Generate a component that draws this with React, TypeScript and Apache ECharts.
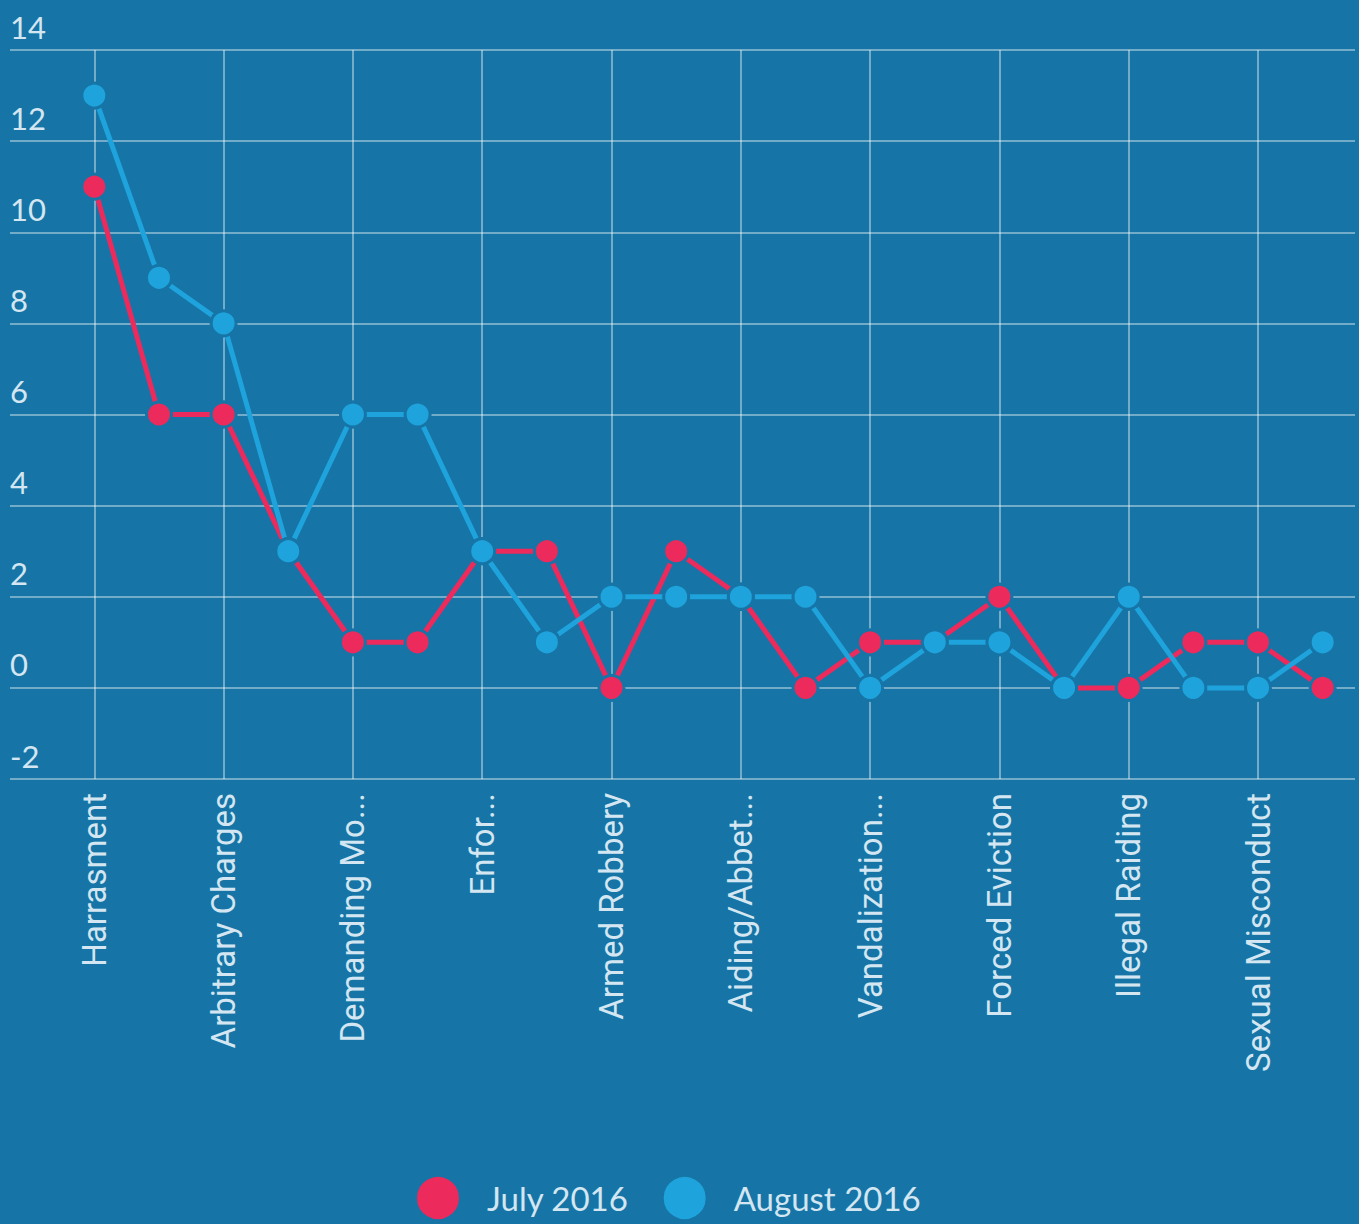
import React, { useEffect, useRef } from "react";
import * as echarts from "echarts";

const categories = [
  "Harrasment",
  "Extortion",
  "Arbitrary Charges",
  "Unlawful Detention",
  "Demanding Mo...",
  "Intimidation",
  "Enfor...",
  "Assault",
  "Armed Robbery",
  "Theft",
  "Aiding/Abbet...",
  "Torture",
  "Vandalization...",
  "Threats",
  "Forced Eviction",
  "Abduction",
  "Illegal Raiding",
  "Bribery",
  "Sexual Misconduct",
  "Other",
];

const july2016 = [11, 6, 6, 3, 1, 1, 3, 3, 0, 3, 2, 0, 1, 1, 2, 0, 0, 1, 1, 0];
const august2016 = [13, 9, 8, 3, 6, 6, 3, 1, 2, 2, 2, 2, 0, 1, 1, 0, 2, 0, 0, 1];

const yMin = -2;
const yMax = 14;
const yInterval = 2;

const BG = "#1675a6";
const RED = "#ec2a5c";
const BLUE = "#1fa3dc";
const GRID = "rgba(255,255,255,0.4)";
const TEXT = "#d3e6f1";

export default function App() {
  const ref = useRef<HTMLDivElement>(null);
  useEffect(() => {
    if (!ref.current) return;
    const chart = echarts.init(ref.current, undefined, { renderer: "svg" });
    chart.setOption({
      animation: false,
      backgroundColor: BG,
      grid: { left: 62, right: 4, top: 50, bottom: 445 },
      legend: {
        top: 1170,
        left: 410,
        padding: 5,
        itemWidth: 44,
        itemHeight: 44,
        itemGap: 33,
        icon: "circle",
        textStyle: { color: TEXT, fontSize: 33, fontFamily: "Lato", padding: [0, 0, 0, 22] },
        data: ["July 2016", "August 2016"],
      },
      xAxis: {
        type: "category",
        data: categories,
        boundaryGap: true,
        axisLine: { show: false },
        axisTick: { show: false },
        axisLabel: {
          interval: 1,
          rotate: 90,
          margin: 14,
          color: TEXT,
          fontSize: 33,
          fontFamily: "Roboto",
        },
        splitLine: {
          show: true,
          interval: 1,
          alignWithLabel: true,
          lineStyle: { color: GRID, width: 2 },
        },
      },
      yAxis: {
        type: "value",
        min: yMin,
        max: yMax,
        interval: yInterval,
        axisLine: { show: false },
        axisTick: {
          show: true,
          inside: false,
          length: 52,
          lineStyle: { color: GRID, width: 2 },
        },
        axisLabel: {
          margin: 52,
          align: "left",
          verticalAlign: "bottom",
          padding: [0, 0, 8, 0],
          color: TEXT,
          fontSize: 31,
          fontFamily: "Lato",
        },
        splitLine: { show: true, lineStyle: { color: GRID, width: 2 } },
      },
      series: [
        {
          name: "July 2016",
          type: "line",
          data: july2016,
          symbol: "circle",
          symbolSize: 25,
          lineStyle: { color: RED, width: 5 },
          itemStyle: { color: RED, borderColor: BG, borderWidth: 3 },
        },
        {
          name: "August 2016",
          type: "line",
          data: august2016,
          symbol: "circle",
          symbolSize: 25,
          lineStyle: { color: BLUE, width: 5 },
          itemStyle: { color: BLUE, borderColor: BG, borderWidth: 3 },
        },
      ],
    });
    return () => chart.dispose();
  }, []);
  return <div ref={ref} style={{ width: 1359, height: 1224, position: "absolute", left: 0, top: 0 }} />;
}
